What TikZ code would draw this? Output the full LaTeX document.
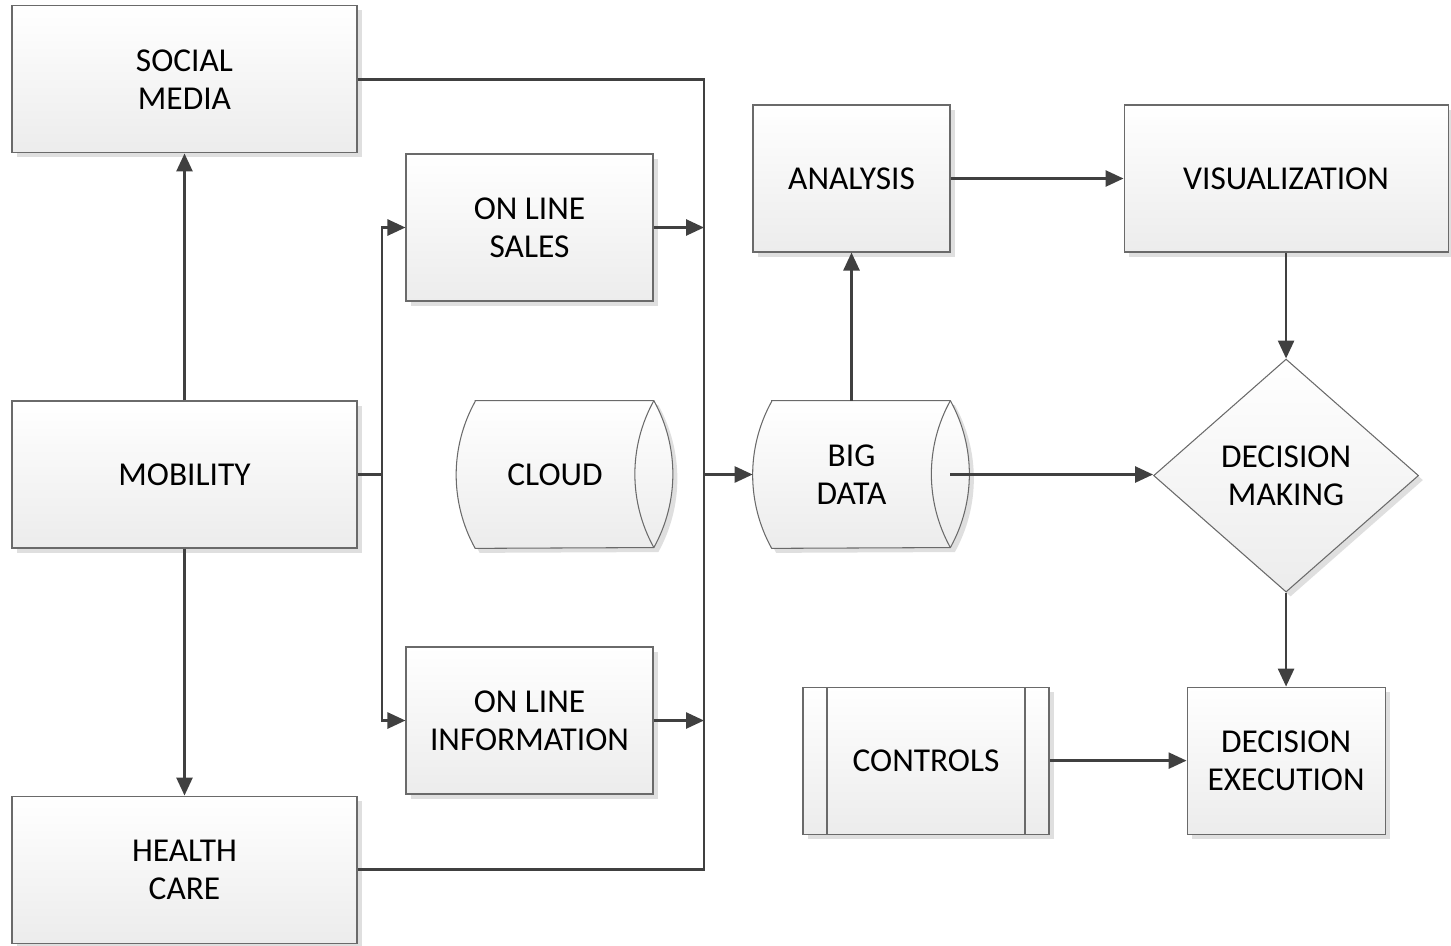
\documentclass[tikz,border=0pt]{standalone}
\usepackage{fontspec}
\setmainfont{Carlito}
\usepackage{tikz}
\usetikzlibrary{arrows.meta,positioning,calc,shapes.geometric,shadows,backgrounds}
\definecolor{Ink}{HTML}{404040}
\definecolor{Edge}{HTML}{6A6A6A}
\definecolor{Shade}{HTML}{ECECEC}
\definecolor{Shadow}{HTML}{DFDFDF}

% storage drum drawn round a named node: curved left side, open right end
\newcommand{\drum}[1]{%
  \draw[drumline] ($(#1.north west)+(0.38,0)$) -- (#1.north east)
    arc[start angle=29, end angle=-29, radius=3.03]
    -- ($(#1.south west)+(0.38,0)$)
    arc[start angle=209, end angle=151, radius=3.03] -- cycle;
  \draw[Edge, line width=0.6pt] (#1.north east) arc[start angle=151, end angle=209, radius=3.03];
}

\begin{document}
\begin{tikzpicture}[font=\fontsize{19}{21.6}\selectfont, >={Triangle[length=0.36cm,width=0.32cm]}]
\tikzset{box/.style={draw=Edge, line width=0.6pt, top color=white, bottom color=Shade, minimum width=6.9cm, minimum height=2.94cm, align=center, inner sep=2pt, drop shadow={shadow xshift=0.09cm, shadow yshift=-0.09cm, fill=Shadow, opacity=1}}, small/.style={box, minimum width=4.94cm}, tank/.style={minimum width=3.94cm, minimum height=2.94cm, align=center, inner sep=0pt}, drumline/.style={draw=Edge, line width=0.6pt, top color=white, bottom color=Shade, drop shadow={shadow xshift=0.09cm, shadow yshift=-0.09cm, fill=Shadow, opacity=1}}, choice/.style={box, diamond, aspect=1.14, minimum width=5.3cm, minimum height=4.66cm, inner sep=0pt}, flow/.style={->, line width=1.5pt, Ink}, bus/.style={line width=1.5pt, Ink}}
\useasboundingbox (0,0) rectangle (29.02,-18.9);
% sources
\node[box] (mobility) at (3.69,-9.49) {MOBILITY};
\node[box, above=4.94cm of mobility] (social) {SOCIAL\\MEDIA};
\node[box, below=4.94cm of mobility] (health) {HEALTH\\CARE};
\node[small] (sales) at (10.59,-4.55) {ON LINE\\SALES};
\node[small] (info) at (10.59,-14.41) {ON LINE\\INFORMATION};
\node[tank] (cloud) at (11.1,-9.49) {CLOUD};
% processing
\node[tank] (bigdata) at (17.03,-9.49) {BIG\\DATA};
\node[box, minimum width=3.94cm] (analysis) at (17.03,-3.57) {ANALYSIS};
\node[box, minimum width=6.48cm, right=3.46cm of analysis] (visual) {VISUALIZATION};
\node[choice, below=2.12cm of visual] (decide) {DECISION\\MAKING};
\node[box, minimum width=3.96cm, below=1.88cm of decide] (exec) {DECISION\\EXECUTION};
\node[box, minimum width=4.92cm, left=2.74cm of exec, path picture={\draw[Edge, line width=0.6pt] ([xshift=0.48cm]path picture bounding box.north west) -- ([xshift=0.48cm]path picture bounding box.south west) ([xshift=-0.48cm]path picture bounding box.north east) -- ([xshift=-0.48cm]path picture bounding box.south east);}] (controls) {CONTROLS};
\begin{scope}[on background layer]
\drum{cloud}
\drum{bigdata}
\end{scope}
\coordinate (lbus) at (7.64,-9.49);
\coordinate (rbus) at (14.08,-9.49);
% connectors
\draw[flow] (mobility.north) -- (social.south);
\draw[flow] (mobility.south) -- (health.north);
\draw[bus] (mobility.east) -- (lbus);
\draw[flow] (lbus) |- (sales.west);
\draw[flow] (lbus) |- (info.west);
\draw[bus] (social.east) -| (rbus) |- (health.east);
\draw[flow] (sales.east) -- (sales.east -| rbus);
\draw[flow] (info.east) -- (info.east -| rbus);
\draw[flow] (rbus) -- (bigdata.west);
\draw[flow] (bigdata.north) -- (analysis.south);
\draw[flow] (analysis.east) -- (visual.west);
\draw[flow] (visual.south) -- (decide.north);
\draw[flow] (bigdata.east) -- (bigdata.east -| decide.west);
\draw[flow] (decide.south) -- (exec.north);
\draw[flow] (controls.east) -- (exec.west);
\end{tikzpicture}
\end{document}
